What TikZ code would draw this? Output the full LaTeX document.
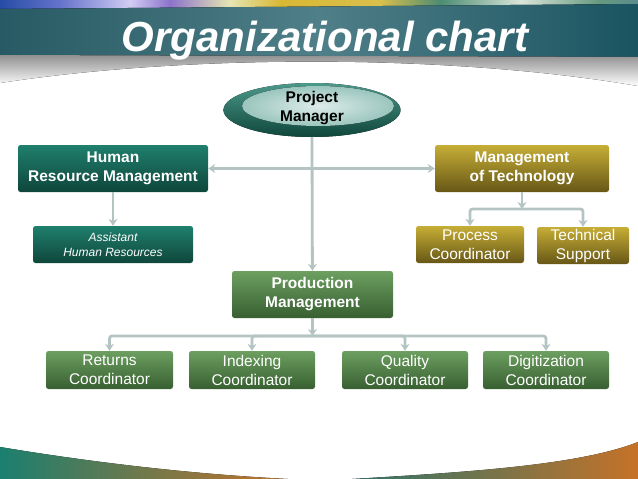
\documentclass[tikz,border=0pt]{standalone}
\usepackage{fontspec}
\setmainfont{Liberation Sans}
\usetikzlibrary{shapes.geometric,arrows.meta}

\definecolor{linegray}{HTML}{B4C4C3}
\definecolor{tealtop}{HTML}{1F7F6D}
\definecolor{tealbot}{HTML}{0F463B}
\definecolor{goldtop}{HTML}{C6AE36}
\definecolor{goldbot}{HTML}{675716}
\definecolor{greentop}{HTML}{6C9F60}
\definecolor{greenbot}{HTML}{385F31}
\definecolor{banL}{HTML}{275A64}
\definecolor{banM}{HTML}{4F7F88}
\definecolor{banR}{HTML}{1A5461}
\definecolor{wedgeteal}{HTML}{1B7F6F}
\definecolor{wedgeorange}{HTML}{C67228}

\pgfdeclarehorizontalshading{photo}{100bp}{rgb(0bp)=(0.15,0.3,0.65); rgb(25bp)=(0.15,0.3,0.65);
  rgb(29.7bp)=(0.4,0.45,0.8); rgb(35.2bp)=(0.82,0.8,0.95); rgb(38.3bp)=(0.55,0.45,0.8);
  rgb(43bp)=(0.9,0.9,0.7); rgb(47bp)=(0.85,0.72,0.2); rgb(54.8bp)=(0.85,0.75,0.3);
  rgb(59.5bp)=(0.3,0.55,0.45); rgb(65.8bp)=(0.85,0.9,0.85); rgb(72bp)=(0.4,0.6,0.5);
  rgb(75bp)=(0.35,0.55,0.55); rgb(100bp)=(0.35,0.55,0.55)}

\begin{document}
\begin{tikzpicture}[x=1pt,y=-1pt,
    conn/.style={draw=linegray, line width=2.8pt, rounded corners=2.5pt},
    tip/.style={-{Stealth[length=7pt,width=9pt]}},
    box/.style={rounded corners=2.5pt, inner sep=0pt, align=center, text=white},
    tealbox/.style={box, top color=tealtop, bottom color=tealbot},
    goldbox/.style={box, top color=goldtop, bottom color=goldbot},
    greenbox/.style={box, top color=greentop, bottom color=greenbot},
    bold/.style={font=\fontsize{15.5}{19}\selectfont\bfseries},
    plain/.style={font=\fontsize{15.5}{19}\selectfont},
  ]
  \useasboundingbox (0,0) rectangle (638,479);

  % header
  \fill[shading=photo] (0,0) rectangle (638,12);
  \fill[left color=banL, right color=banR, middle color=banM] (0,9) -- (638,4) -- (638,57) -- (0,55) -- cycle;
  \fill[top color=black!45, bottom color=white] (0,55) -- (638,57) -- (638,86) .. controls (450,54) and (190,54) .. (0,83) -- cycle;
  \node[anchor=base, text=white, font=\fontsize{42}{50}\selectfont\bfseries\itshape] (title) at (325,52) {Organizational chart};

  % footer
  \fill[left color=wedgeteal, right color=wedgeorange] (0,447) .. controls (90,462) and (190,474) .. (288,479) -- (0,479) -- cycle;
  \fill[left color=wedgeteal!80!black!90, right color=wedgeorange] (352,479) .. controls (470,472) and (580,465) .. (638,442) -- (638,479) -- cycle;

  % project manager
  \fill[top color=tealtop!80!white, bottom color=tealbot] (312,110) ellipse [x radius=88.5, y radius=27];
  \fill[inner color=white!85!tealtop, outer color=tealtop!45!white] (318,106) ellipse [x radius=76, y radius=20];
  \node[ellipse, minimum width=177pt, minimum height=54pt, inner sep=0pt, align=center, bold] (pm) at (312,108) {Project\\Manager};

  \node[tealbox, bold, minimum width=190pt, minimum height=47pt] (hrm) at (113,168.5) {Human\\Resource Management};
  \node[tealbox, minimum width=160pt, minimum height=37pt, font=\fontsize{12}{15}\selectfont\itshape] (ahr) at (113,244.5) {Assistant\\Human Resources};

  \node[goldbox, bold, minimum width=174pt, minimum height=47pt] (mot) at (522,168.5) {Management\\of Technology};
  \node[goldbox, plain, minimum width=108pt, minimum height=37pt] (proc) at (470,244.5) {Process\\Coordinator};
  \node[goldbox, plain, minimum width=92pt, minimum height=37pt] (tech) at (583,245.5) {Technical\\Support};

  \node[greenbox, bold, minimum width=161pt, minimum height=47pt] (prod) at (312.5,294.5) {Production\\Management};
  \node[greenbox, plain, minimum width=127pt, minimum height=38pt] (ret) at (109.5,370) {Returns\\Coordinator};
  \node[greenbox, plain, minimum width=126pt, minimum height=38pt] (idx) at (252,370) {Indexing\\Coordinator};
  \node[greenbox, plain, minimum width=126pt, minimum height=38pt] (qual) at (405,370) {Quality\\Coordinator};
  \node[greenbox, plain, minimum width=126pt, minimum height=38pt] (dig) at (546,370) {Digitization\\Coordinator};

  \coordinate (motj) at (522,209);
  \coordinate (prodj) at (312.5,336);

  \draw[conn, tip] (pm.south |- 0,137) -- (prod);
  \draw[conn, {Stealth[length=7pt,width=9pt]}-{Stealth[length=7pt,width=9pt]}] (hrm) -- (mot);
  \draw[conn, tip] (hrm) -- (ahr);

  \draw[conn, tip] (mot) -- (motj);
  \draw[conn, tip] (motj) -| (proc);
  \draw[conn, tip] (motj) -| (tech);

  \draw[conn, tip] (prod) -- (prodj);
  \draw[conn, tip] (prodj) -| (ret);
  \draw[conn, tip] (prodj) -| (idx);
  \draw[conn, tip] (prodj) -| (qual);
  \draw[conn, tip] (prodj) -| (dig);
\end{tikzpicture}
\end{document}
